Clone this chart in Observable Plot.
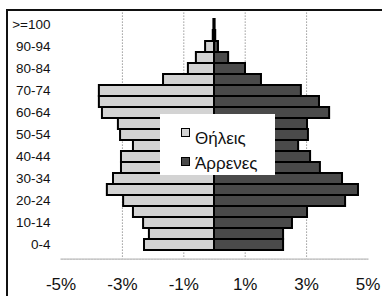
<!DOCTYPE html>
<html>
<head>
<meta charset="utf-8">
<script src="https://cdn.jsdelivr.net/npm/d3@7"></script>
<script src="https://cdn.jsdelivr.net/npm/@observablehq/plot@0.6"></script>
<style>
  html, body { margin: 0; padding: 0; background: #fff; }
  #wrap { position: relative; width: 382px; height: 296px; overflow: hidden; background: #fff;
          font-family: "Liberation Sans", Arial, sans-serif; }
  #chart { position: absolute; left: 0; top: 0; }
  #topmask { position: absolute; left: 0; top: 0; width: 382px; height: 10px; background: #fff; }
  #frame { position: absolute; left: 6px; top: 9px; width: 400px; height: 300px;
           border-left: 2px solid #111; border-top: 2px solid #111; }
  #legend { position: absolute; left: 160px; top: 114px; width: 115px; height: 61px; background: #fff; }
  .item { position: absolute; left: 0; height: 20px; }
  .sw { position: absolute; left: 21px; width: 7px; height: 7px; border: 1.6px solid #000; }
  .lab { position: absolute; left: 35px; font-size: 17px; color: #111; white-space: nowrap; line-height: 1; }
</style>
</head>
<body>
<div id="wrap">
  <div id="chart"></div>
  <div id="legend"></div>
  <div id="topmask"></div>
  <div id="frame"></div>
</div>
<script>
// Age groups (bottom to top)
const ages = ["0-4","5-9","10-14","15-19","20-24","25-29","30-34","35-39","40-44","45-49",
              "50-54","55-59","60-64","65-69","70-74","75-79","80-84","85-89","90-94","95-99",">=100"];
// Percent of population, females (drawn to the left)
const female = [2.28, 2.12, 2.31, 2.64, 2.96, 3.49, 3.29, 3.03, 3.03, 2.64,
                3.06, 3.13, 3.65, 3.75, 3.75, 1.66, 0.85, 0.59, 0.29, 0.04, 0.02];
// Percent of population, males (drawn to the right)
const male   = [2.25, 2.25, 2.54, 3.03, 4.27, 4.69, 4.17, 3.45, 3.13, 2.74,
                3.06, 3.03, 3.75, 3.42, 2.83, 1.53, 1.01, 0.46, 0.13, 0.04, 0.02];
const seriesNames = ["Θήλεις", "Άρρενες"];
const seriesColors = ["#d3d3d3", "#4a4a4a"];
const yTickLabels = ["0-4","10-14","20-24","30-34","40-44","50-54","60-64","70-74","80-84","90-94",">=100"];
const xTicks = [-5, -3, -1, 1, 3, 5];
const gridTicks = [-3, -1, 1, 3];

const rows = ages.flatMap((a, i) => [
  {age: a, sex: seriesNames[0], v: -female[i]},
  {age: a, sex: seriesNames[1], v: male[i]}
]);

const chart = Plot.plot({
  width: 382,
  height: 296,
  marginLeft: 60.5,
  marginRight: 14.5,
  marginTop: 9.4,
  marginBottom: 37.4,
  style: {fontFamily: "'Liberation Sans', Arial, sans-serif", background: "transparent", color: "#111"},
  x: {domain: [-5, 5]},
  y: {domain: ages.slice().reverse(), padding: 0},
  color: {domain: seriesNames, range: seriesColors},
  marks: [
    Plot.gridX(gridTicks, {stroke: "#9a9a9a", strokeOpacity: 1, strokeDasharray: "1.5,1.5"}),
    Plot.frame({anchor: "bottom", stroke: "#a0a0a0", strokeDasharray: "2,1"}),
    Plot.barX(rows, {y: "age", x1: 0, x2: "v", fill: "sex", stroke: "#000", strokeWidth: 2}),
    Plot.axisY({ticks: yTickLabels, tickSize: 0, tickPadding: 10.5, fontSize: 13.5, label: null}),
    Plot.axisX({ticks: xTicks, tickFormat: d => d + "%", tickSize: 0, tickPadding: 19, fontSize: 17, label: null})
  ]
});
document.getElementById("chart").appendChild(chart);

// Legend (overlaid inside the plot area, as in the reference)
const legend = document.getElementById("legend");
const swTops = [14, 43];
const labTops = [16, 41];
seriesNames.forEach((name, i) => {
  const sw = document.createElement("div");
  sw.className = "sw";
  sw.style.top = swTops[i] + "px";
  sw.style.background = seriesColors[i];
  legend.appendChild(sw);
  const lab = document.createElement("div");
  lab.className = "lab";
  lab.style.top = labTops[i] + "px";
  lab.textContent = name;
  legend.appendChild(lab);
});
</script>
</body>
</html>
